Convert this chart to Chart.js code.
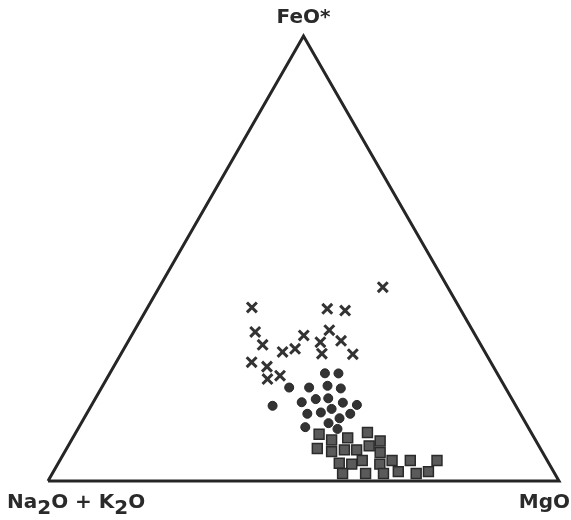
<!DOCTYPE html>
<html>
<head>
<meta charset="utf-8">
<title>AFM diagram</title>
<script src="https://cdn.jsdelivr.net/npm/chart.js@4.4.1/dist/chart.umd.min.js"></script>
<style>
    body { margin: 0; background: #fff; }
    #wrap { position: relative; width: 571px; height: 520px; }
    .lbl {
        position: absolute;
        font-family: "DejaVu Sans", sans-serif;
        font-weight: bold;
        font-size: 20px;
        line-height: 20px;
        color: #2a2a2a;
        white-space: nowrap;
    }
    .lbl sub { font-size: 20px; vertical-align: baseline; position: relative; top: 6px; }
</style>
</head>
<body>
<div id="wrap">
    <canvas id="afmChart" width="571" height="520"></canvas>
    <div class="lbl" id="lblTop" style="left:0; width:607px; text-align:center; top:6px;">FeO*</div>
    <div class="lbl" id="lblLeft" style="left:7px; top:491px;">Na<sub>2</sub>O + K<sub>2</sub>O</div>
    <div class="lbl" id="lblRight" style="right:1px; top:491px;">MgO</div>
</div>

<script>
// ===========================
// Data  (ternary %, each row: [FeO*, Na2O+K2O, MgO])
// ===========================

const corners = ['FeO*', 'Na2O + K2O', 'MgO'];

const crossData = [
    [43.5, 12.7, 43.7], [39.0, 40.6, 20.4], [38.7, 26.0, 35.3], [38.3, 22.7, 39.0],
    [33.5, 42.7, 23.8], [33.9, 28.0, 38.1], [30.6, 42.7, 26.7], [32.7, 33.6, 33.7],
    [29.7, 36.8, 33.5], [29.0, 39.6, 31.4], [31.2, 31.1, 37.7], [28.6, 32.1, 39.3],
    [31.5, 26.9, 41.6], [28.5, 26.1, 45.4], [26.7, 46.8, 26.5], [25.7, 44.3, 30.0],
    [22.9, 45.6, 31.5], [23.7, 42.8, 33.6]
];

const circleData = [
    [24.2, 33.7, 42.1], [24.2, 31.1, 44.8], [21.0, 42.3, 36.7], [21.0, 38.4, 40.6],
    [21.4, 34.6, 44.0], [20.8, 32.3, 46.9], [16.9, 47.6, 35.5], [17.7, 41.5, 40.8],
    [18.4, 38.4, 43.2], [18.6, 35.9, 45.6], [17.6, 33.5, 48.9], [17.1, 31.0, 51.9],
    [15.1, 41.7, 43.2], [15.4, 38.9, 45.7], [16.2, 36.4, 47.4], [14.1, 35.9, 50.0],
    [15.1, 33.3, 51.6], [12.1, 43.6, 44.3], [13.0, 38.6, 48.4], [11.7, 37.5, 50.8]
];

const squareData = [
    [10.5, 41.7, 47.8], [9.2, 39.9, 50.9], [9.7, 36.5, 53.8], [10.9, 32.0, 57.0],
    [9.0, 30.5, 60.5], [7.3, 43.6, 49.0], [6.6, 41.2, 52.2], [7.0, 38.5, 54.5],
    [7.0, 36.1, 56.9], [7.9, 33.2, 58.9], [6.4, 31.8, 61.8], [4.0, 41.0, 55.0],
    [3.8, 38.7, 57.6], [4.6, 36.2, 59.2], [3.8, 33.2, 63.1], [4.6, 30.4, 65.1],
    [4.6, 26.8, 68.6], [4.6, 21.6, 73.9], [1.7, 41.5, 56.8], [1.7, 37.0, 61.3],
    [1.7, 33.5, 64.8], [2.1, 30.4, 67.5], [1.7, 27.1, 71.2], [2.1, 24.5, 73.4]
];

// ===========================
// Ternary -> cartesian
// ===========================

const H = Math.sqrt(3) / 2 * 100;

function toXY(row) {
    const sum = row[0] + row[1] + row[2];
    const f = row[0] / sum * 100;
    const m = row[2] / sum * 100;
    return { x: m + f / 2, y: f * Math.sqrt(3) / 2 };
}

// outline: Na2O+K2O -> MgO -> FeO* -> back
const outline = [[0, 100, 0], [0, 0, 100], [100, 0, 0], [0, 100, 0]].map(toXY);

// ===========================
// Chart
// ===========================

const ctx = document.getElementById('afmChart');

new Chart(ctx, {
    type: 'scatter',
    data: {
        datasets: [
            {
                label: corners.join(' - '),
                data: outline,
                showLine: true,
                borderColor: '#262626',
                borderWidth: 3,
                pointRadius: 0,
                borderJoinStyle: 'miter',
                clip: false
            },
            {
                label: 'crosses',
                data: crossData.map(toXY),
                pointStyle: 'crossRot',
                pointRadius: 7,
                borderColor: '#333',
                borderWidth: 3,
                clip: false
            },
            {
                label: 'circles',
                data: circleData.map(toXY),
                pointStyle: 'circle',
                pointRadius: 4.5,
                backgroundColor: '#333',
                borderColor: '#262626',
                borderWidth: 1,
                clip: false
            },
            {
                label: 'squares',
                data: squareData.map(toXY),
                pointStyle: 'rect',
                pointRadius: 7,
                backgroundColor: '#5a5a5a',
                borderColor: '#2a2a2a',
                borderWidth: 1.5,
                clip: false
            }
        ]
    },
    options: {
        responsive: false,
        animation: false,
        events: [],
        layout: {
            padding: { left: 48, right: 12, top: 36, bottom: 39 }
        },
        plugins: {
            legend: { display: false },
            tooltip: { enabled: false }
        },
        scales: {
            x: { type: 'linear', min: 0, max: 100, display: false },
            y: { type: 'linear', min: 0, max: H, display: false }
        }
    }
});
</script>
</body>
</html>
